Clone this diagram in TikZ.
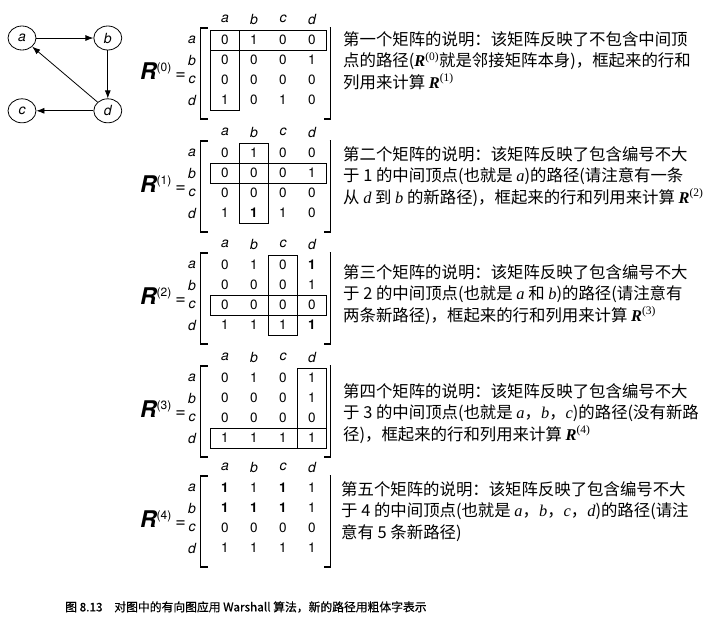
\documentclass[tikz,border=0pt]{standalone}
\usepackage{fontspec}
\setmainfont{Noto Sans CJK SC}
\newfontfamily\hv{TeX Gyre Heros}
\newfontfamily\tms{Liberation Serif}
\newfontfamily\capfont[FakeBold=0.6]{Noto Sans CJK SC}
\usetikzlibrary{arrows.meta,positioning,matrix,shapes.geometric}

\newcommand\hvd{\hv\fontsize{13.5}{14}\selectfont}
\newcommand\hvb{\hv\bfseries\fontsize{13.5}{14}\selectfont}
\newcommand\hvi{\hv\itshape\fontsize{14}{14}\selectfont}
\newcommand\vi[1]{{\tms\itshape #1}}
\newcommand\Rk[1]{{\tms\bfseries\itshape R}{\tms\textsuperscript{(#1)}}}
\newcommand\Rlab[1]{{\hv\bfseries\itshape\fontsize{23}{23}\selectfont R}\raisebox{7.5pt}{\hv\fontsize{12}{12}\selectfont(#1)}\hspace{4pt}{\hv\fontsize{18}{18}\selectfont=}}

\begin{document}
\begin{tikzpicture}[x=1pt, y=-1pt, node distance=4mm and 5mm,
  vtx/.style={ellipse, draw, line width=0.8pt, minimum width=28pt, minimum height=24pt, inner sep=0pt, font=\hvi},
  arr/.style={-{Latex[length=8pt,width=6pt]}, line width=0.8pt},
  mat/.style={matrix of nodes, inner sep=0pt, row sep=0pt, column sep=0pt,
    nodes={minimum width=29pt, minimum height=20pt, inner sep=0pt, outer sep=0pt, anchor=center, font=\hvd},
    row 1/.style={nodes={minimum height=22pt, font=\hvi}},
    column 1/.style={nodes={minimum width=37pt, font=\hvi}}},
  nb/.style={font=\hvb},
  hl/.style={draw, line width=0.9pt},
  brk/.style={draw, line width=1.2pt},
  rlab/.style={anchor=east, inner sep=0pt},
  desc/.style={anchor=north west, align=left, inner sep=0pt, font=\fontsize{16.4}{21.5}\selectfont}]
\useasboundingbox (0,0) rectangle (718,630);

% the digraph
\node[vtx] (a) at (22,38) {a};
\node[vtx, right=57pt of a] (b) {b};
\node[vtx, below=48pt of a] (c) {c};
\node[vtx, right=57pt of c] (d) {d};
\draw[arr] (a) -- (b); \draw[arr] (b) -- (d); \draw[arr] (d) -- (a); \draw[arr] (d) -- (c);

% R(0) .. R(4)
\matrix (R0) [mat] at (250,59) {
  & a & b & c & d \\
a & 0 & 1 & 0 & 0 \\
b & 0 & 0 & 0 & 1 \\
c & 0 & 0 & 0 & 0 \\
d & 1 & 0 & 1 & 0 \\
};
\matrix (R1) [mat] at (250,172) {
  & a & b & c & d \\
a & 0 & 1 & 0 & 0 \\
b & 0 & 0 & 0 & 1 \\
c & 0 & 0 & 0 & 0 \\
d & 1 & |[nb]| 1 & 1 & 0 \\
};
\matrix (R2) [mat] at (250,284) {
  & a & b & c & d \\
a & 0 & 1 & 0 & |[nb]| 1 \\
b & 0 & 0 & 0 & 1 \\
c & 0 & 0 & 0 & 0 \\
d & 1 & 1 & 1 & |[nb]| 1 \\
};
\matrix (R3) [mat] at (250,397) {
  & a & b & c & d \\
a & 0 & 1 & 0 & 1 \\
b & 0 & 0 & 0 & 1 \\
c & 0 & 0 & 0 & 0 \\
d & 1 & 1 & 1 & 1 \\
};
\matrix (R4) [mat] at (250,507) {
  & a & b & c & d \\
a & |[nb]| 1 & 1 & |[nb]| 1 & 1 \\
b & |[nb]| 1 & |[nb]| 1 & |[nb]| 1 & 1 \\
c & 0 & 0 & 0 & 0 \\
d & 1 & 1 & 1 & 1 \\
};

% brackets
\foreach \m in {R0,R1,R2,R3,R4} {
  \draw[brk] ([shift={(-3pt,2pt)}]\m-2-2.north west) -| ([shift={(-10pt,-9pt)}]\m-5-2.south west) -- ++(7pt,0);
  \draw[brk] ([shift={(3pt,2pt)}]\m-2-5.north east) -| ([shift={(4pt,-9pt)}]\m-5-5.south east) -- ++(-7pt,0);
}

% framed row and column
\draw[hl] (R0-2-2.north west) rectangle (R0-2-5.south east);
\draw[hl] (R0-2-2.north west) rectangle (R0-5-2.south east);
\draw[hl] (R1-3-2.north west) rectangle (R1-3-5.south east);
\draw[hl] (R1-2-3.north west) rectangle (R1-5-3.south east);
\draw[hl] (R2-4-2.north west) rectangle (R2-4-5.south east);
\draw[hl] (R2-2-4.north west) rectangle (R2-5-4.south east);
\draw[hl] (R3-5-2.north west) rectangle (R3-5-5.south east);
\draw[hl] (R3-2-5.north west) rectangle (R3-5-5.south east);

\node[rlab] (L0) at (186,71) {\Rlab{0}};
\node[rlab] (L1) at (186,184) {\Rlab{1}};
\node[rlab] (L2) at (186,296) {\Rlab{2}};
\node[rlab] (L3) at (186,409) {\Rlab{3}};
\node[rlab] (L4) at (186,519) {\Rlab{4}};

\node[desc] (t0) at (343,31) {第一个矩阵的说明：该矩阵反映了不包含中间顶\\点的路径(\Rk{0}就是邻接矩阵本身)，框起来的行和\\列用来计算 \Rk{1}};
\node[desc] (t1) at (343,146) {第二个矩阵的说明：该矩阵反映了包含编号不大\\于 1 的中间顶点(也就是 \vi{a})的路径(请注意有一条\\从 \vi{d} 到 \vi{b} 的新路径)，框起来的行和列用来计算 \Rk{2}};
\node[desc] (t2) at (343,264) {第三个矩阵的说明：该矩阵反映了包含编号不大\\于 2 的中间顶点(也就是 \vi{a} 和 \vi{b})的路径(请注意有\\两条新路径)，框起来的行和列用来计算 \Rk{3}};
\node[desc] (t3) at (343,383) {第四个矩阵的说明：该矩阵反映了包含编号不大\\于 3 的中间顶点(也就是 \vi{a}，\vi{b}，\vi{c})的路径(没有新路\\径)，框起来的行和列用来计算 \Rk{4}};
\node[desc] (t4) at (341,481) {第五个矩阵的说明：该矩阵反映了包含编号不大\\于 4 的中间顶点(也就是 \vi{a}，\vi{b}，\vi{c}，\vi{d})的路径(请注\\意有 5 条新路径)};

\node[anchor=west, inner sep=0pt, font=\capfont\fontsize{11.8}{12}\selectfont] (cap) at (65,607) {图 8.13\quad 对图中的有向图应用 Warshall 算法，新的路径用粗体字表示};
\end{tikzpicture}
\end{document}
